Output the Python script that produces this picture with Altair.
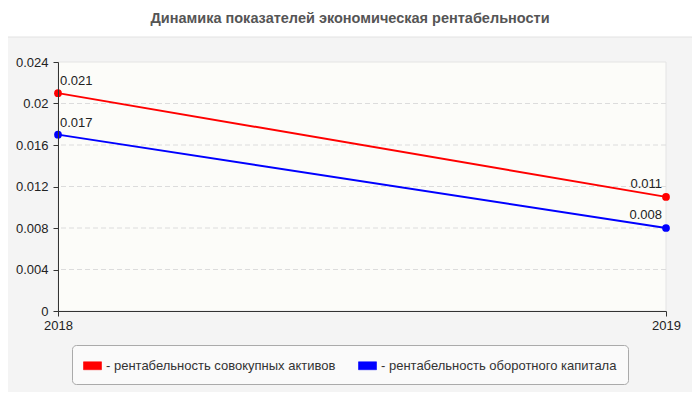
import altair as alt
import pandas as pd

years = [2018, 2019]
series_names = ["- рентабельность совокупных активов", "- рентабельность оборотного капитала"]
assets = [0.021, 0.011]
working = [0.017, 0.008]
colors = ["#ff0000", "#0000ff"]
y_ticks = [0, 0.004, 0.008, 0.012, 0.016, 0.02, 0.024]
title_text = "Динамика показателей экономическая рентабельности"

rows = []
for name, vals in zip(series_names, [assets, working]):
    for yr, v in zip(years, vals):
        rows.append({"year": yr, "value": v, "series": name})
df = pd.DataFrame(rows)
grid_df = pd.DataFrame({"value": y_ticks[1:-1]})
one = pd.DataFrame({"a": [0]})

W, H = 608, 249
FONT = "Liberation Sans"
FS = 13

xs = alt.Scale(domain=[2018, 2019], nice=False, zero=False)
ys = alt.Scale(domain=[0, 0.024], nice=False)
cs = alt.Scale(domain=series_names, range=colors)

x_axis = alt.Axis(
    values=years, format="d", title=None, grid=False, domainColor="#333333",
    tickColor="#333333", tickSize=5, labelPadding=3, labelFontSize=FS,
    labelColor="#222222", zindex=1, labelFlush=False, labelFont=FONT)
y_axis = alt.Axis(
    values=y_ticks, format=".3~f", title=None, grid=False, domainColor="#333333",
    tickColor="#333333", tickSize=5, labelPadding=5, labelFontSize=FS,
    labelColor="#222222", zindex=1, labelFont=FONT)
legend = alt.Legend(
    title=None, orient="none", legendX=14, legendY=283, direction="horizontal",
    fillColor="#fafafa", strokeColor="#aaaaaa", cornerRadius=4, padding=11,
    symbolType="M-1,-0.44L1,-0.44L1,0.44L-1,0.44Z", symbolSize=324,
    symbolStrokeWidth=0.6,
    labelFontSize=FS, labelColor="#333333", labelFont=FONT, labelOffset=4,
    columnPadding=21, labelLimit=400, symbolOpacity=1)

panel = alt.Chart(one).mark_rect(
    fill="#f4f4f4", stroke="#e2e2e2", strokeWidth=1, cornerRadius=6
).encode(x=alt.value(-56), x2=alt.value(639), y=alt.value(-25), y2=alt.value(335))

plotbg = alt.Chart(one).mark_rect(
    fill="#fcfcf9", stroke="#e4e4e4", strokeWidth=1
).encode(x=alt.value(0), x2=alt.value(W), y=alt.value(0), y2=alt.value(H))

grid = alt.Chart(grid_df).mark_rule(
    stroke="#dcdcdc", strokeDash=[5, 3], strokeWidth=1
).encode(y=alt.Y("value:Q", scale=ys, axis=y_axis))

base = alt.Chart(df)

lines = base.mark_line(strokeWidth=2).encode(
    x=alt.X("year:Q", scale=xs, axis=x_axis),
    y=alt.Y("value:Q", scale=ys, axis=y_axis),
    stroke=alt.Stroke("series:N", scale=cs, legend=legend),
    detail="series:N",
)

points = base.mark_point(filled=True, size=60, opacity=1).encode(
    x=alt.X("year:Q", scale=xs, axis=x_axis),
    y=alt.Y("value:Q", scale=ys, axis=y_axis),
    fill=alt.Fill("series:N", scale=cs, legend=legend),
)

txt_left = base.transform_filter(alt.datum.year == 2018).mark_text(
    align="left", baseline="bottom", dx=2, dy=-5, fontSize=FS, color="#222222", font=FONT
).encode(x=alt.X("year:Q", scale=xs, axis=x_axis), y=alt.Y("value:Q", scale=ys, axis=y_axis),
         text=alt.Text("value:Q", format=".3f"))

txt_right = base.transform_filter(alt.datum.year == 2019).mark_text(
    align="right", baseline="bottom", dx=-4, dy=-6, fontSize=FS, color="#222222", font=FONT
).encode(x=alt.X("year:Q", scale=xs, axis=x_axis), y=alt.Y("value:Q", scale=ys, axis=y_axis),
         text=alt.Text("value:Q", format=".3f"))

chart = alt.layer(panel, plotbg, grid, lines, points, txt_left, txt_right).properties(
    width=W, height=H,
    autosize=alt.AutoSizeParams(type="none"),
    padding={"left": 50, "top": 54, "right": 26, "bottom": 81},
    title=alt.TitleParams(title_text, anchor="middle", fontSize=14.5, fontWeight="bold",
                          color="#555555", font=FONT, offset=3, dx=-12, baseline="middle"),
    background="#ffffff",
).configure_view(stroke=None).configure(font=FONT)

chart.save("out.html", embed_options={"renderer": "svg", "actions": False})
